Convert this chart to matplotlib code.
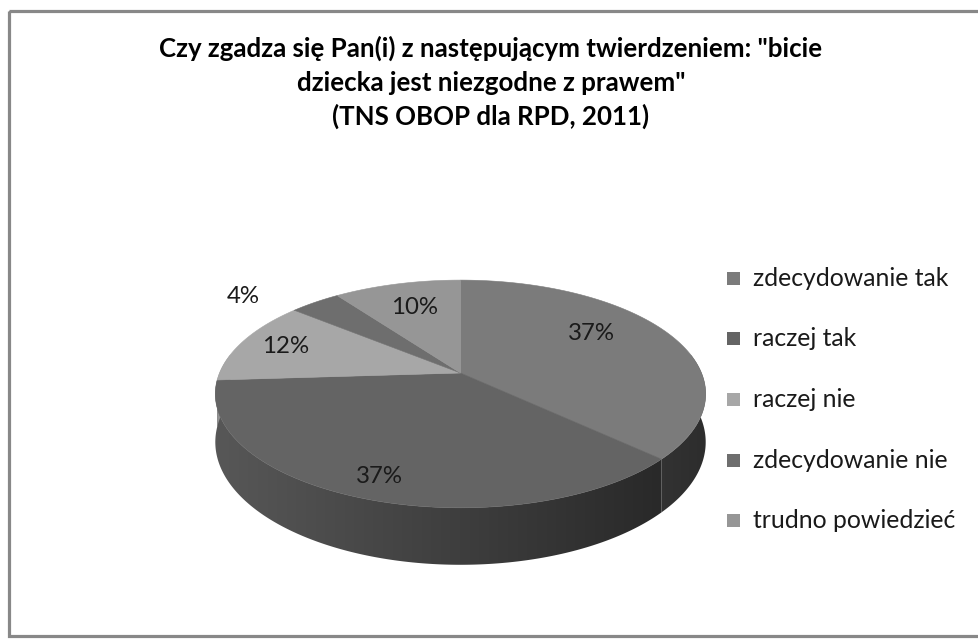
import numpy as np
import matplotlib
matplotlib.use("Agg")
import matplotlib.pyplot as plt
from matplotlib.patches import Rectangle, Polygon
from matplotlib.font_manager import FontProperties
from matplotlib.textpath import TextPath

# ---------------- data ----------------
categories = ["zdecydowanie tak", "raczej tak", "raczej nie",
              "zdecydowanie nie", "trudno powiedzieć"]
values = [37, 37, 12, 4, 10]
value_labels = ["37%", "37%", "12%", "4%", "10%"]
title_lines = ['Czy zgadza się Pan(i) z następującym twierdzeniem: "bicie',
               'dziecka jest niezgodne z prawem"',
               '(TNS OBOP dla RPD, 2011)']

# ---------------- style ----------------
top_colors = ["#7b7b7b", "#646464", "#a7a7a7", "#6e6e6e", "#969696"]
FONT = "Lato"

W, H = 979, 639
fig = plt.figure(figsize=(W / 100, H / 100), dpi=100)
ax = fig.add_axes([0, 0, 1, 1])
ax.axis("off")


def fit_size(text, target_px, weight="normal"):
    fp = FontProperties(family=FONT, weight=weight, size=100)
    w = TextPath((0, 0), text, prop=fp).get_extents().width
    return target_px * 72.0 / w


# outer border
ax.add_patch(Rectangle((9.2, 11), W, 625, fill=False, ec="#888888", lw=2.3, zorder=0))

# ---------------- 3D pie geometry (perspective) ----------------
cx, cy = 460.5, 373.0
sx_r, sy_r = 241.0, 110.0
k = 0.184
depth = 46.5


def proj(t, r=1.0):
    st, ct = np.sin(t), np.cos(t)
    d = 1 + k * r * st
    return cx + sx_r * r * ct / d, cy - sy_r * r * st / d


total = float(sum(values))
cum = np.concatenate([[0], np.cumsum(values)]) / total
starts = np.deg2rad(90 - 360 * cum[:-1])
ends = np.deg2rad(90 - 360 * cum[1:])

# side band: one clipped gradient image per slice
side_lo, side_hi = np.deg2rad(170), np.deg2rad(370)
xs_grad = np.linspace(cx - 260, cx + 260, 520)
fac = 0.62 - 0.25 * np.clip((xs_grad - cx) / sx_r, -1, 1)
for i in range(len(values)):
    a0, a1 = ends[i], starts[i]          # a0 < a1
    for shift in (0, 2 * np.pi, -2 * np.pi):
        lo = max(a0 + shift, side_lo)
        hi = min(a1 + shift, side_hi)
        if hi <= lo:
            continue
        tt = np.linspace(lo, hi, 300)
        top = [proj(t) for t in tt]
        bot = [(x, y + depth / (1 + k * np.sin(t))) for (x, y), t in zip(top, tt)]
        poly = Polygon(top + bot[::-1], closed=True, fc="none", ec="none",
                       transform=ax.transData)
        ax.add_patch(poly)
        rgb = np.array(matplotlib.colors.to_rgb(top_colors[i]))
        img = np.clip(fac[None, :, None] * rgb[None, None, :], 0, 1)
        im = ax.imshow(img, extent=[xs_grad[0], xs_grad[-1], 600, 300],
                       aspect="auto", interpolation="bilinear", zorder=1)
        im.set_clip_path(poly)

# top slices
for i in range(len(values)):
    tt = np.linspace(starts[i], ends[i], 200)
    pts = [(cx, cy)] + [proj(t) for t in tt]
    ax.add_patch(Polygon(pts, closed=True, fc=top_colors[i], ec=top_colors[i],
                         lw=0.4, zorder=2))

# data labels
lab_r = [0.62, 0.85, 0.8, 1.0, 0.7]
lab_off = [(0, -14), (0, 0), (0, 0), (-72, -6), (0, 0)]
lab_size = fit_size("37%", 45)
for i in range(len(values)):
    tm = 0.5 * (starts[i] + ends[i])
    x, y = proj(tm, lab_r[i])
    ax.text(x + lab_off[i][0], y + lab_off[i][1], value_labels[i], ha="center",
            va="center", fontsize=lab_size, family=FONT, color="#1a1a1a", zorder=3)

# title
title_size = fit_size(title_lines[0], 660, "bold")
title_base = [57, 91, 125]
for line, yb in zip(title_lines, title_base):
    ax.text(491, yb, line, ha="center", va="baseline", fontsize=title_size,
            family=FONT, weight="bold", color="black")

# legend
leg_size = fit_size(categories[0], 194)
for i, (cat, col) in enumerate(zip(categories, top_colors)):
    yc = 278 + i * 60.7
    ax.add_patch(Rectangle((727, yc - 6.5), 13, 13, fc=col, ec="none"))
    ax.text(753, yc, cat, ha="left", va="center", fontsize=leg_size,
            family=FONT, color="#1a1a1a")

ax.set_xlim(0, W)
ax.set_ylim(H, 0)
fig.savefig("out.png", dpi=100)
